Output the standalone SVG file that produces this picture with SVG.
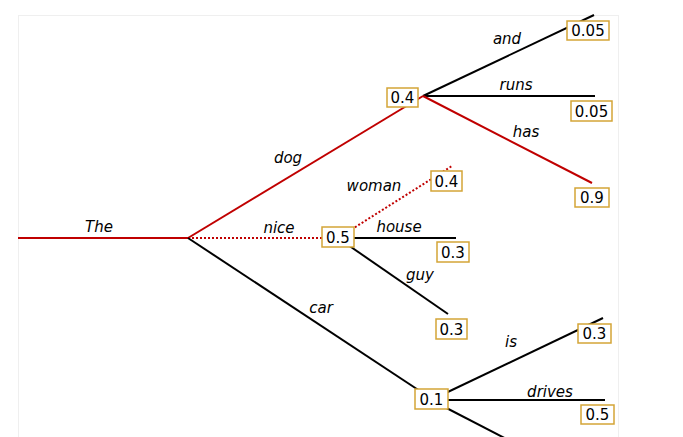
<svg xmlns="http://www.w3.org/2000/svg" width="683" height="437" viewBox="0 0 683 437">
<style>
.e{fill:none;stroke:#000;stroke-width:2}
.r{stroke:#c00000}
.d{stroke-dasharray:2,2}
.w{font-family:"DejaVu Sans",sans-serif;font-style:italic;font-size:15px;fill:#000;text-anchor:middle}
.b rect{fill:#fff;stroke:#d4a537;stroke-width:1.5}
.b text{font-family:"DejaVu Sans",sans-serif;font-size:15px;fill:#000;text-anchor:middle}
</style>
<rect x="0" y="0" width="683" height="437" fill="#fff"/>
<rect x="18.5" y="15.5" width="600" height="440" fill="#fff" stroke="#efefef" stroke-width="1"/>
<g id="connectors">
<line class="e r" x1="18" y1="238" x2="188" y2="238"/>
<line class="e r" x1="188" y1="238" x2="423" y2="96"/>
<line class="e r d" x1="188" y1="238" x2="330" y2="238"/>
<line class="e" x1="188" y1="238" x2="432" y2="399"/>
<line class="e" x1="423" y1="96" x2="594" y2="15"/>
<line class="e" x1="423" y1="96" x2="595" y2="96"/>
<line class="e r" x1="423" y1="96" x2="592" y2="183"/>
<line class="e r d" x1="338" y1="238" x2="452" y2="166"/>
<line class="e" x1="338" y1="238" x2="456" y2="238"/>
<line class="e" x1="338" y1="238" x2="448" y2="314"/>
<line class="e" x1="431" y1="400" x2="603" y2="318"/>
<line class="e" x1="431" y1="400" x2="605" y2="400"/>
<line class="e" x1="431" y1="400" x2="520" y2="446"/>
</g>
<g id="labels">
<text class="w" x="99" y="232">The</text>
<text class="w" x="288" y="163">dog</text>
<text class="w" x="279" y="233">nice</text>
<text class="w" x="321" y="313">car</text>
<text class="w" x="507" y="44">and</text>
<text class="w" x="516" y="90">runs</text>
<text class="w" x="526" y="137">has</text>
<text class="w" x="374" y="191">woman</text>
<text class="w" x="399" y="232">house</text>
<text class="w" x="420" y="280">guy</text>
<text class="w" x="511" y="347">is</text>
<text class="w" x="550" y="397">drives</text>
</g>
<g id="n_dog" class="b"><rect x="387" y="88" width="31" height="19"/><text x="402.5" y="103">0.4</text></g>
<g id="n_and" class="b"><rect x="567" y="21" width="42" height="19"/><text x="588" y="36">0.05</text></g>
<g id="n_runs" class="b"><rect x="571" y="101" width="41" height="20"/><text x="591.5" y="116.5">0.05</text></g>
<g id="n_has" class="b"><rect x="575" y="188" width="34" height="19"/><text x="592" y="203">0.9</text></g>
<g id="n_woman" class="b"><rect x="431" y="171" width="31" height="20"/><text x="446.5" y="186.5">0.4</text></g>
<g id="n_nice" class="b"><rect x="322" y="227" width="32" height="20"/><text x="338" y="242.5">0.5</text></g>
<g id="n_house" class="b"><rect x="437" y="242" width="32" height="20"/><text x="453" y="257.5">0.3</text></g>
<g id="n_guy" class="b"><rect x="436" y="319" width="31" height="20"/><text x="451.5" y="334.5">0.3</text></g>
<g id="n_car" class="b"><rect x="415" y="389" width="33" height="20"/><text x="431.5" y="404.5">0.1</text></g>
<g id="n_is" class="b"><rect x="578" y="324" width="33" height="19"/><text x="594.5" y="339">0.3</text></g>
<g id="n_drives" class="b"><rect x="581" y="405" width="33" height="19"/><text x="597.5" y="420">0.5</text></g>
</svg>
